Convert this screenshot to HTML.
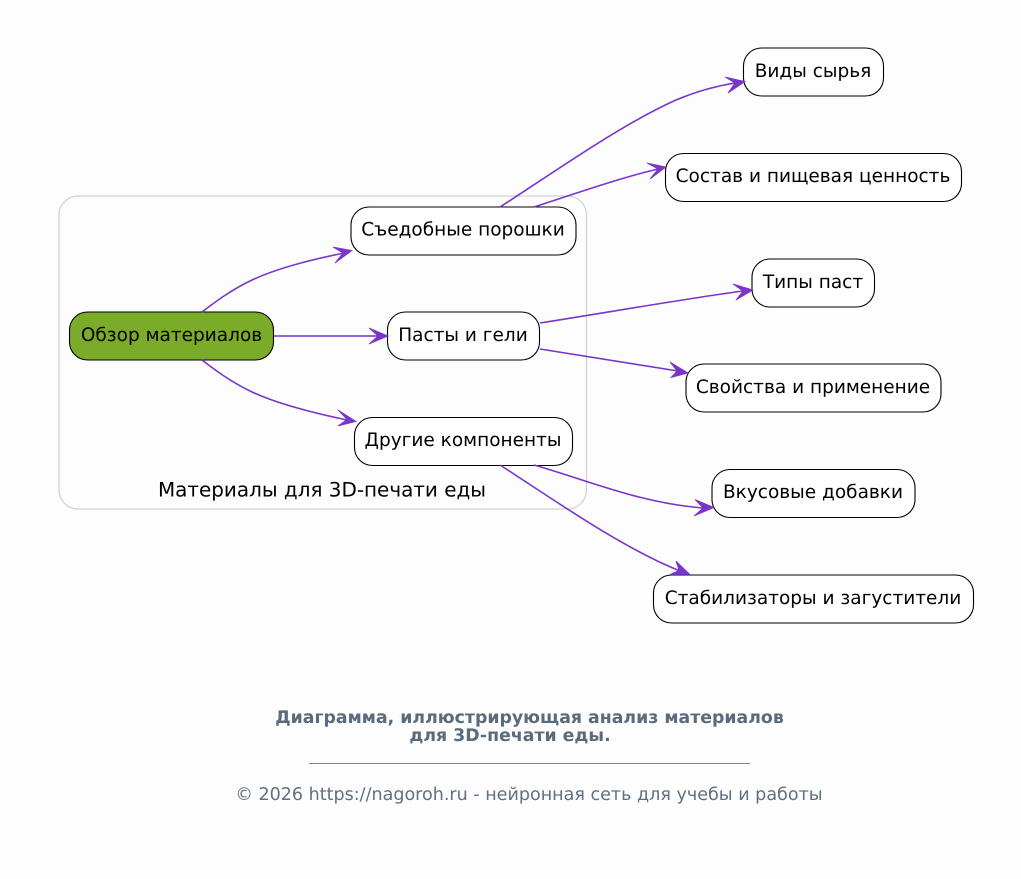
<!DOCTYPE html>
<html><head><meta charset="utf-8"><style>
html,body{margin:0;padding:0;background:#fdfdfd;width:1021px;height:879px;overflow:hidden}
svg{display:block}
text{font-family:"DejaVu Sans",sans-serif;text-rendering:geometricPrecision}
.n{fill:#fff;stroke:#000;stroke-width:1.1}
.t{font-size:18.5px;fill:#000;text-anchor:middle}
.e{fill:none;stroke:#7a35c9;stroke-width:1.6}
.a{fill:#7a35c9;stroke:#7a35c9;stroke-width:.8}
</style></head><body>
<svg width="1021" height="879" viewBox="0 0 1021 879" xmlns="http://www.w3.org/2000/svg">
<rect width="1021" height="879" fill="#fdfdfd"/>
<rect x="59" y="196" width="527.500" height="313" rx="19" fill="#fdfdfd" stroke="#d3d3d3" stroke-width="1.300"/>
<text x="322" y="496.500" text-anchor="middle" font-size="19.950" fill="#000">Материалы для 3D-печати еды</text>

<rect x="69.500" y="312" width="204" height="48" rx="18" fill="#7aab29" stroke="#000" stroke-width="1.100"/>
<text x="171.500" y="341" class="t">Обзор материалов</text>
<rect class="n" x="351" y="207" width="225" height="48" rx="18"/>
<text x="463" y="235.500" class="t">Съедобные порошки</text>
<rect class="n" x="387.500" y="312" width="152" height="48" rx="18"/>
<text x="463" y="341" class="t">Пасты и гели</text>
<rect class="n" x="354.500" y="417.500" width="218" height="48" rx="18"/>
<text x="463" y="446" class="t">Другие компоненты</text>
<rect class="n" x="743.500" y="48" width="140" height="48" rx="18"/>
<text x="813" y="77" class="t">Виды сырья</text>
<rect class="n" x="665.500" y="153.500" width="296" height="48" rx="18"/>
<text x="813" y="182" class="t">Состав и пищевая ценность</text>
<rect class="n" x="752" y="259" width="122.500" height="48" rx="18"/>
<text x="813" y="288" class="t">Типы паст</text>
<rect class="n" x="686" y="364" width="255" height="48" rx="18"/>
<text x="813" y="393" class="t">Свойства и применение</text>
<rect class="n" x="712" y="469.500" width="203" height="48" rx="18"/>
<text x="813" y="498" class="t">Вкусовые добавки</text>
<rect class="n" x="653.500" y="575" width="320" height="48" rx="18"/>
<text x="813" y="604" class="t">Стабилизаторы и загустители</text>

<path class="e" d="M202,312C215,302 231,290 252,280C280,267 315,259 344,253"/>
<path class="a" d="M352,250.500L333,247L343,253L335,263Z"/>
<path class="e" d="M274,336H378"/>
<path class="a" d="M388,336L369,328L378,336L369,344Z"/>
<path class="e" d="M202,360C215,370 231,382 252,392C280,405 318,414 347,420"/>
<path class="a" d="M356,421.500L338,410L347,419.500L338,426Z"/>

<path class="e" d="M500,207C550,175 620,125 676,100C695,92 716,86 735,83"/>
<path class="a" d="M745,81.500L725,77L735,83L728,93Z"/>
<path class="e" d="M534,207C580,192 620,178 658,169"/>
<path class="a" d="M666,167L647,163L658,169L650,179Z"/>
<path class="e" d="M540,323C610,312 690,298 743,291"/>
<path class="a" d="M753,290L733,284L743,291L736,300Z"/>
<path class="e" d="M540,349C590,357 640,365 678,371"/>
<path class="a" d="M688,373L670,362L677,371L671,377.500Z"/>
<path class="e" d="M534,465C590,481 640,503 703,508"/>
<path class="a" d="M714,507.500L695,499.500L703,508L694,516Z"/>
<path class="e" d="M500,465C550,497 620,547 680,571"/>
<path class="a" d="M690,574.500L676,561L679,570.500L670,574.500Z"/>

<text x="529.500" y="723" text-anchor="middle" font-size="17.33" font-weight="700" fill="#5a6b7d">Диаграмма, иллюстрирующая анализ материалов</text>
<text x="510" y="741" text-anchor="middle" font-size="17.33" font-weight="700" fill="#5a6b7d">для 3D-печати еды.</text>
<rect x="309" y="763" width="441" height="1" fill="#7a8794"/>
<text x="529" y="800" text-anchor="middle" font-size="17.55" fill="#5f7082">© 2026 https://nagoroh.ru - нейронная сеть для учебы и работы</text>
</svg>
</body></html>
